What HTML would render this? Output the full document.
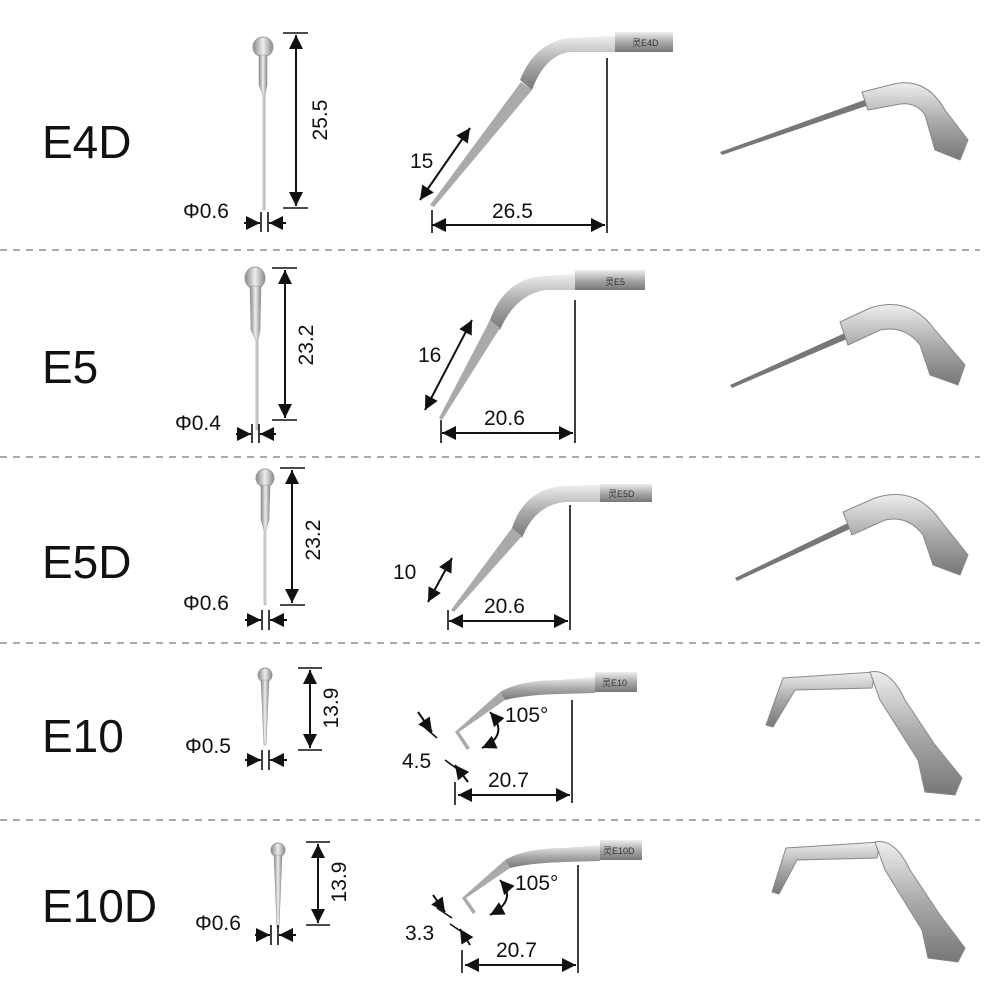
<!DOCTYPE html>
<html><head><meta charset="utf-8"><style>
body{margin:0;background:#fff;}
svg{display:block;}
text{font-family:"Liberation Sans","Noto Sans CJK SC",sans-serif;fill:#111;}
.big{font-size:46px;}
.dim{font-size:21px;}
.lbl{font-size:9px;fill:#333;}
.d{stroke:#111;stroke-width:2;fill:none;}
.t{stroke:#111;stroke-width:1.6;}
</style></head><body>
<svg width="1000" height="1000" viewBox="0 0 1000 1000">
<defs>
<marker id="a" viewBox="0 0 10 10" refX="10" refY="5" markerWidth="7" markerHeight="7" orient="auto-start-reverse" markerUnits="userSpaceOnUse">
<path d="M0,0 L10,5 L0,10 z" fill="#111"/></marker>
<marker id="A" viewBox="0 0 10 10" refX="10" refY="5" markerWidth="16" markerHeight="14" orient="auto-start-reverse" markerUnits="userSpaceOnUse">
<path d="M0,0 L10,5 L0,10 z" fill="#111"/></marker>
<linearGradient id="m" x1="0" y1="0" x2="0" y2="1"><stop offset="0" stop-color="#eee"/><stop offset=".5" stop-color="#aaa"/><stop offset="1" stop-color="#777"/></linearGradient>
<linearGradient id="mh" x1="0" y1="0" x2="1" y2="0"><stop offset="0" stop-color="#888"/><stop offset=".5" stop-color="#eee"/><stop offset="1" stop-color="#888"/></linearGradient>
</defs>

<!-- dashed separators -->
<g stroke="#777" stroke-width="1.3" stroke-dasharray="7,6">
<line x1="0" y1="250" x2="980" y2="250"/><line x1="0" y1="457" x2="980" y2="457"/>
<line x1="0" y1="643" x2="980" y2="643"/><line x1="0" y1="820" x2="980" y2="820"/>
</g>

<text class="big" x="42" y="158">E4D</text>
<text class="big" x="42" y="383">E5</text>
<text class="big" x="42" y="578">E5D</text>
<text class="big" x="42" y="752">E10</text>
<text class="big" x="42" y="922">E10D</text>

<!-- ===== Row 1 ===== -->
<circle cx="263" cy="47" r="10" fill="url(#mh)" stroke="#999"/>
<path d="M259,55 L267,55 L267,85 L265,95 L265,210 L263,210 L263,95 L259,85z" fill="url(#mh)" stroke="#999" stroke-width=".6"/>
<line class="t" x1="283" y1="33" x2="308" y2="33"/><line class="t" x1="283" y1="208" x2="308" y2="208"/>
<line class="d" x1="296" y1="35" x2="296" y2="206" marker-start="url(#A)" marker-end="url(#A)"/>
<text class="dim" transform="translate(327,120) rotate(-90)" text-anchor="middle">25.5</text>
<text class="dim" x="183" y="218">Φ0.6</text>
<line class="t" x1="261" y1="212" x2="261" y2="232"/><line class="t" x1="268" y1="212" x2="268" y2="232"/>
<line class="d" x1="244" y1="223" x2="260" y2="223" marker-end="url(#A)"/><line class="d" x1="286" y1="223" x2="269" y2="223" marker-end="url(#A)"/>
<!-- side -->
<path d="M520,80 Q535,42 570,38 L615,36 L615,52 L570,52 Q545,55 532,90z" fill="url(#m)"/>
<rect x="615" y="32" width="58" height="20" fill="url(#m)"/><text class="lbl" x="632" y="46">灵E4D</text>
<path d="M521,82 L532,90 L434,207 L430,205z" fill="#aaa"/>
<line class="t" x1="607" y1="58" x2="607" y2="233"/>
<line class="d" x1="432" y1="225" x2="605" y2="225" marker-start="url(#A)" marker-end="url(#A)"/>
<line class="t" x1="432" y1="210" x2="432" y2="233"/>
<text class="dim" x="492" y="218">26.5</text>
<line class="d" x1="470" y1="128" x2="420" y2="200" marker-start="url(#A)" marker-end="url(#A)"/>
<text class="dim" x="410" y="168">15</text>
<!-- 3D -->
<path d="M720,152 L870,98 L872,104 L722,155z" fill="#777"/>
<path d="M862,92 L890,85 Q925,75 945,110 L968,140 L960,160 L935,150 L925,115 Q915,100 895,105 L868,110z" fill="url(#m)" stroke="#888"/>

<!-- ===== Row 2 ===== -->
<ellipse cx="255" cy="278" rx="10" ry="11" fill="url(#mh)" stroke="#999"/>
<path d="M250,286 L261,286 L260,330 L258,340 L258,430 L256,430 L256,340 L251,330z" fill="url(#mh)" stroke="#999" stroke-width=".6"/>
<line class="t" x1="272" y1="268" x2="297" y2="268"/><line class="t" x1="272" y1="420" x2="297" y2="420"/>
<line class="d" x1="285" y1="270" x2="285" y2="418" marker-start="url(#A)" marker-end="url(#A)"/>
<text class="dim" transform="translate(313,345) rotate(-90)" text-anchor="middle">23.2</text>
<text class="dim" x="175" y="430">Φ0.4</text>
<line class="t" x1="252" y1="424" x2="252" y2="443"/><line class="t" x1="259" y1="424" x2="259" y2="443"/>
<line class="d" x1="236" y1="434" x2="251" y2="434" marker-end="url(#A)"/><line class="d" x1="276" y1="434" x2="260" y2="434" marker-end="url(#A)"/>
<path d="M490,320 Q505,278 545,276 L575,274 L575,290 L545,290 Q515,295 500,330z" fill="url(#m)"/>
<rect x="575" y="270" width="70" height="20" fill="url(#m)"/><text class="lbl" x="605" y="285">灵E5</text>
<path d="M490,320 L500,328 L442,420 L439,418z" fill="#aaa"/>
<line class="t" x1="575" y1="300" x2="575" y2="443"/>
<line class="d" x1="442" y1="433" x2="573" y2="433" marker-start="url(#A)" marker-end="url(#A)"/>
<line class="t" x1="441" y1="420" x2="441" y2="443"/>
<text class="dim" x="484" y="425">20.6</text>
<line class="d" x1="472" y1="320" x2="425" y2="410" marker-start="url(#A)" marker-end="url(#A)"/>
<text class="dim" x="418" y="362">16</text>
<path d="M730,385 L845,333 L847,339 L732,388z" fill="#777"/>
<path d="M840,322 L870,308 Q910,295 935,330 L965,365 L958,385 L930,375 L920,345 Q905,325 880,330 L848,345z" fill="url(#m)" stroke="#888"/>

<!-- ===== Row 3 ===== -->
<circle cx="265" cy="478" r="9" fill="url(#mh)" stroke="#999"/>
<path d="M261,485 L270,485 L269,520 L266,530 L266,605 L264,605 L264,530 L261,520z" fill="url(#mh)" stroke="#999" stroke-width=".6"/>
<line class="t" x1="280" y1="468" x2="305" y2="468"/><line class="t" x1="280" y1="605" x2="305" y2="605"/>
<line class="d" x1="292" y1="470" x2="292" y2="603" marker-start="url(#A)" marker-end="url(#A)"/>
<text class="dim" transform="translate(320,540) rotate(-90)" text-anchor="middle">23.2</text>
<text class="dim" x="183" y="610">Φ0.6</text>
<line class="t" x1="262" y1="610" x2="262" y2="630"/><line class="t" x1="269" y1="610" x2="269" y2="630"/>
<line class="d" x1="245" y1="620" x2="261" y2="620" marker-end="url(#A)"/><line class="d" x1="287" y1="620" x2="270" y2="620" marker-end="url(#A)"/>
<path d="M512,528 Q525,488 565,486 L600,485 L600,502 L565,502 Q535,505 522,538z" fill="url(#m)"/>
<rect x="600" y="484" width="52" height="18" fill="url(#m)"/><text class="lbl" x="608" y="497">灵E5D</text>
<path d="M512,528 L522,536 L454,612 L451,610z" fill="#aaa"/>
<line class="t" x1="570" y1="505" x2="570" y2="630"/>
<line class="d" x1="449" y1="621" x2="568" y2="621" marker-start="url(#A)" marker-end="url(#A)"/>
<line class="t" x1="448" y1="610" x2="448" y2="630"/>
<text class="dim" x="484" y="613">20.6</text>
<line class="d" x1="452" y1="558" x2="428" y2="602" marker-start="url(#A)" marker-end="url(#A)"/>
<text class="dim" x="393" y="579">10</text>
<path d="M735,578 L850,522 L852,528 L737,581z" fill="#777"/>
<path d="M843,512 L875,498 Q915,485 940,520 L968,555 L960,575 L933,565 L923,535 Q908,515 885,520 L852,535z" fill="url(#m)" stroke="#888"/>

<!-- ===== Row 4 ===== -->
<circle cx="265" cy="675" r="7" fill="url(#mh)" stroke="#999"/>
<path d="M261,680 L269,680 L266,745 L264,745z" fill="url(#mh)" stroke="#999" stroke-width=".6"/>
<line class="t" x1="298" y1="668" x2="322" y2="668"/><line class="t" x1="298" y1="750" x2="322" y2="750"/>
<line class="d" x1="310" y1="670" x2="310" y2="748" marker-start="url(#A)" marker-end="url(#A)"/>
<text class="dim" transform="translate(338,708) rotate(-90)" text-anchor="middle">13.9</text>
<text class="dim" x="185" y="753">Φ0.5</text>
<line class="t" x1="262" y1="750" x2="262" y2="770"/><line class="t" x1="269" y1="750" x2="269" y2="770"/>
<line class="d" x1="245" y1="760" x2="261" y2="760" marker-end="url(#A)"/><line class="d" x1="287" y1="760" x2="270" y2="760" marker-end="url(#A)"/>
<path d="M500,692 Q520,680 560,680 L595,677 L595,693 L560,694 Q525,695 505,700z" fill="url(#m)"/>
<rect x="595" y="672" width="42" height="20" fill="url(#m)"/><text class="lbl" x="602" y="686">灵E10</text>
<path d="M500,692 L505,700 L459,732 L470,748 L467,750 L455,732z" fill="#aaa"/>
<line class="t" x1="572" y1="700" x2="572" y2="803"/>
<line class="d" x1="458" y1="795" x2="570" y2="795" marker-start="url(#A)" marker-end="url(#A)"/>
<line class="t" x1="455" y1="782" x2="455" y2="805"/>
<text class="dim" x="488" y="787">20.7</text>
<text class="dim" x="505" y="722">105°</text>
<path d="M490,712 Q510,735 482,748" class="d" marker-start="url(#A)" marker-end="url(#A)"/>
<line class="t" x1="422" y1="725" x2="437" y2="738"/><line class="t" x1="445" y1="760" x2="460" y2="771"/>
<line class="d" x1="418" y1="712" x2="432" y2="732" marker-end="url(#A)"/><line class="d" x1="468" y1="782" x2="455" y2="765" marker-end="url(#A)"/>
<text class="dim" x="402" y="768">4.5</text>
<path d="M766,725 L783,678 L875,672 L872,688 L795,690 L773,727z" fill="url(#m)" stroke="#888"/>
<path d="M870,672 Q890,668 905,700 L935,745 L962,778 L955,795 L925,792 L918,760 L880,700z" fill="url(#m)" stroke="#888"/>

<!-- ===== Row 5 ===== -->
<circle cx="278" cy="850" r="7" fill="url(#mh)" stroke="#999"/>
<path d="M274,855 L282,855 L279,928 L277,928z" fill="url(#mh)" stroke="#999" stroke-width=".6"/>
<line class="t" x1="306" y1="842" x2="330" y2="842"/><line class="t" x1="306" y1="925" x2="330" y2="925"/>
<line class="d" x1="318" y1="844" x2="318" y2="923" marker-start="url(#A)" marker-end="url(#A)"/>
<text class="dim" transform="translate(346,882) rotate(-90)" text-anchor="middle">13.9</text>
<text class="dim" x="195" y="930">Φ0.6</text>
<line class="t" x1="271" y1="925" x2="271" y2="945"/><line class="t" x1="278" y1="925" x2="278" y2="945"/>
<line class="d" x1="255" y1="935" x2="270" y2="935" marker-end="url(#A)"/><line class="d" x1="296" y1="935" x2="279" y2="935" marker-end="url(#A)"/>
<path d="M505,860 Q525,848 565,848 L600,845 L600,861 L565,862 Q530,863 510,868z" fill="url(#m)"/>
<rect x="600" y="840" width="42" height="20" fill="url(#m)"/><text class="lbl" x="603" y="854">灵E10D</text>
<path d="M505,860 L510,868 L466,898 L476,912 L473,914 L462,898z" fill="#aaa"/>
<line class="t" x1="578" y1="865" x2="578" y2="973"/>
<line class="d" x1="465" y1="965" x2="576" y2="965" marker-start="url(#A)" marker-end="url(#A)"/>
<line class="t" x1="462" y1="950" x2="462" y2="973"/>
<text class="dim" x="496" y="957">20.7</text>
<text class="dim" x="515" y="890">105°</text>
<path d="M500,880 Q518,900 490,915" class="d" marker-start="url(#A)" marker-end="url(#A)"/>
<line class="t" x1="437" y1="908" x2="452" y2="918"/><line class="t" x1="450" y1="924" x2="465" y2="934"/>
<line class="d" x1="433" y1="895" x2="445" y2="912" marker-end="url(#A)"/><line class="d" x1="470" y1="945" x2="460" y2="929" marker-end="url(#A)"/>
<text class="dim" x="405" y="940">3.3</text>
<path d="M772,892 L786,848 L880,842 L877,858 L797,860 L779,894z" fill="url(#m)" stroke="#888"/>
<path d="M875,842 Q895,838 910,870 L940,915 L965,948 L958,962 L928,958 L922,930 L885,870z" fill="url(#m)" stroke="#888"/>
</svg>
</body></html>
